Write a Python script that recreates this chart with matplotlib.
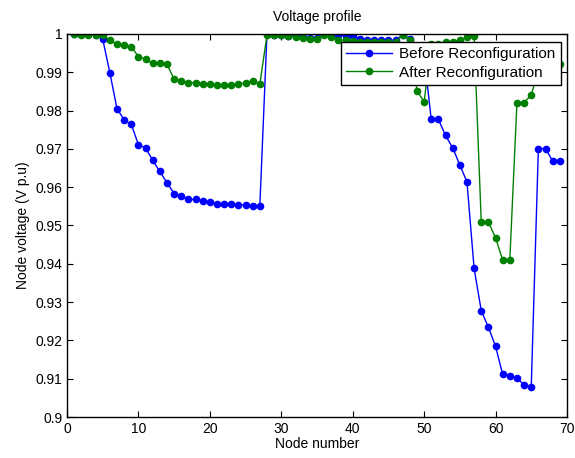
import matplotlib
matplotlib.use("Agg")
import matplotlib.pyplot as plt

plt.rcParams['font.family'] = ['Liberation Sans', 'DejaVu Sans']

nodes = list(range(1, 70))

v_before = [
    1.0, 1.0, 0.9999, 0.9998, 0.9987, 0.9899, 0.9805, 0.9776, 0.9764, 0.9711,
    0.9703, 0.9670, 0.9641, 0.9612, 0.9583, 0.9577, 0.9568, 0.9568, 0.9565, 0.9561,
    0.9556, 0.9556, 0.9556, 0.9554, 0.9554, 0.9551, 0.9551, 0.9999, 0.9998, 0.9997,
    0.9996, 0.9994, 0.9992, 0.9990, 0.9990, 0.9999, 0.9997, 0.9997, 0.9996, 0.9996,
    0.9986, 0.9985, 0.9985, 0.9985, 0.9984, 0.9984, 0.9997, 0.9988, 0.9947, 0.9942,
    0.9777, 0.9777, 0.9735, 0.9703, 0.9658, 0.9614, 0.9388, 0.9278, 0.9234, 0.9185,
    0.9111, 0.9108, 0.9101, 0.9084, 0.9078, 0.9701, 0.9701, 0.9668, 0.9668,
]

v_after = [
    1.0, 0.9997, 0.9997, 0.9997, 0.9997, 0.9984, 0.9973, 0.9970, 0.9967, 0.9941,
    0.9934, 0.9923, 0.9923, 0.9921, 0.9882, 0.9878, 0.9873, 0.9873, 0.9869, 0.9869,
    0.9867, 0.9867, 0.9867, 0.9869, 0.9873, 0.9876, 0.9869, 0.9997, 0.9998, 0.9997,
    0.9994, 0.9991, 0.9990, 0.9987, 0.9987, 0.9997, 0.9991, 0.9985, 0.9983, 0.9981,
    0.9980, 0.9980, 0.9980, 0.9980, 0.9980, 0.9980, 0.9997, 0.9985, 0.9852, 0.9823,
    0.9975, 0.9975, 0.9978, 0.9980, 0.9983, 0.9993, 0.9995, 0.9509, 0.9509, 0.9468,
    0.9410, 0.9410, 0.9821, 0.9821, 0.9841, 0.9905, 0.9905, 0.9921, 0.9921,
]

fig = plt.figure(figsize=(5.75, 4.58), dpi=100)
ax = fig.add_axes([0.1165, 0.0895, 0.8695, 0.8363])

ax.plot(nodes, v_before, color='#0000ff', marker='o', markersize=4.5,
        linewidth=1.0, label='Before Reconfiguration')
ax.plot(nodes, v_after, color='#008000', marker='o', markersize=4.5,
        linewidth=1.0, label='After Reconfiguration')

ax.set_xlim(0, 70)
ax.set_ylim(0.9, 1.0)
ax.set_xticks(range(0, 71, 10))
yt = [0.9 + 0.01 * i for i in range(11)]
ax.set_yticks(yt)
ax.set_yticklabels(['0.9', '0.91', '0.92', '0.93', '0.94', '0.95', '0.96',
                    '0.97', '0.98', '0.99', '1'])
ax.tick_params(direction='in', top=True, right=True, labelsize=10, length=4)
for s in ax.spines.values():
    s.set_linewidth(1.0)

ax.set_title('Voltage profile', fontsize=10, pad=9)
ax.set_xlabel('Node number', fontsize=10, labelpad=1)
ax.set_ylabel('Node voltage (V p.u)', fontsize=10)

leg = ax.legend(loc='upper right', bbox_to_anchor=(0.988, 0.98), fontsize=11,
                fancybox=False, edgecolor='black', framealpha=1,
                borderaxespad=0, handlelength=3.0, handletextpad=0.5,
                borderpad=0.35, labelspacing=0.3)
leg.get_frame().set_linewidth(1.0)

fig.savefig('out.png', dpi=100)
